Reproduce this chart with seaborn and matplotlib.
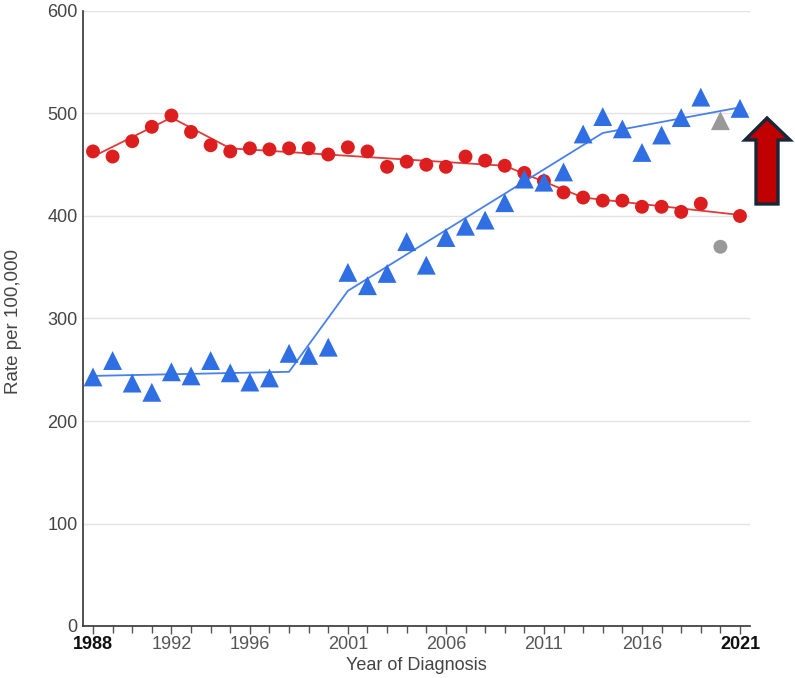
import numpy as np
import pandas as pd
import seaborn as sns
import matplotlib.pyplot as plt
from matplotlib.patches import Polygon
from matplotlib.ticker import FixedLocator, MultipleLocator

years = list(range(1988, 2022))
red_rate = [463, 458, 473, 487, 498, 482, 469, 463, 466, 465, 466, 466, 460, 467,
            463, 448, 453, 450, 448, 458, 454, 449, 442, 434, 423, 418, 415, 415,
            409, 409, 404, 412, 370, 400]
blue_rate = [243, 259, 237, 228, 248, 244, 259, 247, 238, 242, 266, 264, 272, 345,
             332, 344, 375, 352, 379, 390, 396, 413, 436, 433, 443, 480, 497, 485,
             462, 479, 496, 516, 493, 505]
excluded_year = 2020

red_trend_years = [1988, 1992, 1995, 2009, 2013, 2021]
red_trend = [458, 496, 466, 449, 418, 401]
blue_trend_years = [1988, 1998, 2001, 2014, 2021]
blue_trend = [244, 248, 327, 481, 506]

tick_years = [1988, 1992, 1996, 2001, 2006, 2011, 2016, 2021]
bold_years = [1988, 2021]

RED = "#dc1e1e"
BLUE = "#2f6ee3"
GRAY = "#999999"

df = pd.DataFrame({"year": years, "red": red_rate, "blue": blue_rate})
df["kept"] = df["year"] != excluded_year
red_tr = pd.DataFrame({"year": red_trend_years, "rate": red_trend})
blue_tr = pd.DataFrame({"year": blue_trend_years, "rate": blue_trend})

sns.set_style("white")
plt.rcParams['font.family'] = ['Liberation Sans', 'DejaVu Sans']

fig = plt.figure(figsize=(7.95, 6.78), dpi=100)
ax = fig.add_axes([83/795, 1 - 626/678, (750-83)/795, (626-11)/678])

# trend lines
sns.lineplot(data=red_tr, x="year", y="rate", color="#e23a3a", lw=1.3, ax=ax, zorder=2)
sns.lineplot(data=blue_tr, x="year", y="rate", color="#4a80ea", lw=1.3, ax=ax, zorder=2)

# observed points
kept = df[df["kept"]]
dropped = df[~df["kept"]]
sns.scatterplot(data=kept, x="year", y="red", color=RED, marker="o", s=100,
                edgecolor="none", ax=ax, zorder=3)
sns.scatterplot(data=kept, x="year", y="blue", color=BLUE, marker="^", s=185,
                edgecolor="none", ax=ax, zorder=3)
sns.scatterplot(data=dropped, x="year", y="red", color=GRAY, marker="o", s=100,
                edgecolor="none", ax=ax, zorder=3)
sns.scatterplot(data=dropped, x="year", y="blue", color=GRAY, marker="^", s=185,
                edgecolor="none", ax=ax, zorder=3)

ax.set_xlim(1987.49, 2021.51)
ax.set_ylim(0, 600)
ax.set_yticks(range(0, 601, 100))
ax.yaxis.grid(True, color="#e3e3e3", lw=1)
ax.set_axisbelow(True)

ax.xaxis.set_major_locator(FixedLocator(tick_years))
ax.xaxis.set_minor_locator(MultipleLocator(1))
ax.set_xticklabels([str(y) for y in tick_years])
for lab, y in zip(ax.get_xticklabels(), tick_years):
    lab.set_fontweight("bold" if y in bold_years else "normal")
    lab.set_color("#111111" if y in bold_years else "#555555")
ax.tick_params(axis="x", which="major", direction="out", length=6, width=1,
               color="#555555", labelsize=13, pad=1, bottom=True)
ax.tick_params(axis="x", which="minor", direction="out", length=5, width=1,
               color="#555555", bottom=True)
ax.tick_params(axis="y", length=0, labelsize=13, colors="#444444", pad=4)

for s in ["top", "right"]:
    ax.spines[s].set_visible(False)
for s in ["left", "bottom"]:
    ax.spines[s].set_color("#333333")
    ax.spines[s].set_linewidth(1.2)

ax.set_xlabel("Year of Diagnosis", fontsize=13, color="#444444", labelpad=3)
ax.set_ylabel("Rate per 100,000", fontsize=13.5, color="#444444")
ax.yaxis.set_label_coords((22 - 83) / 667, (626 - 322) / 615)

# up arrow marker on the right
pts = [(767, 118), (790, 140), (778, 140), (778, 204), (756, 204), (756, 140), (745, 140)]
arrow = Polygon([(x / 795, 1 - y / 678) for x, y in pts], closed=True,
                transform=fig.transFigure, facecolor="#c00000", edgecolor="#17283a",
                lw=2.4, joinstyle="miter", clip_on=False, zorder=5)
fig.patches.append(arrow)

fig.savefig("out.png", dpi=100)
